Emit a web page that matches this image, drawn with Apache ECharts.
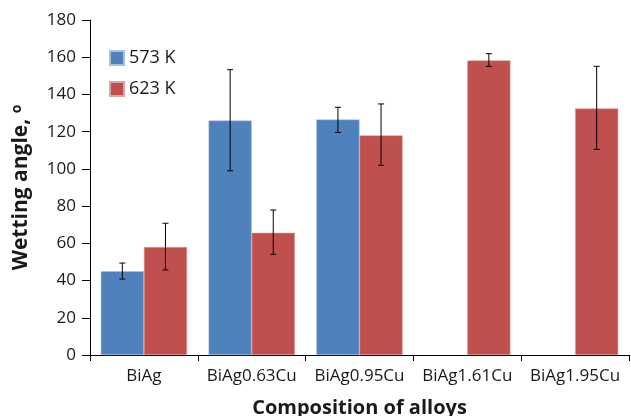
<!DOCTYPE html>
<html>
<head>
<meta charset="utf-8">
<script src="https://cdn.jsdelivr.net/npm/echarts@6/dist/echarts.min.js"></script>
<style>
  html, body { margin: 0; padding: 0; background: #fff; }
  #chart { width: 631px; height: 416px; }
</style>
</head>
<body>
<div id="chart"></div>
<script>
// 合金成分
const alloys = ['BiAg', 'BiAg0.63Cu', 'BiAg0.95Cu', 'BiAg1.61Cu', 'BiAg1.95Cu']
// 润湿角 (null = 无数据)
const angle573 = [45, 126, 126.5, null, null]
const angle623 = [58, 65.7, 118, 158.3, 132.5]
// 误差范围 [下限, 上限]
const err573 = [[40.8, 49.4], [99, 153.3], [119.6, 133.1], null, null]
const err623 = [[45.7, 70.8], [54.1, 77.9], [101.9, 134.9], [155.1, 161.9], [110.5, 155.1]]

const textColor = '#1a1a1a'
const font = 'Open Sans'

// 误差线 (两根柱子并排, barCategoryGap 20%, barGap 0)
const errorSeries = (name, errs, side) => ({
  type: 'custom',
  name: name + ' err',
  z: 10,
  data: errs.map((e, i) => e ? [i, e[0], e[1]] : null).filter(d => d),
  encode: {x: 0, y: [1, 2]},
  renderItem: (params, api) => {
    const idx = api.value(0)
    const low = api.coord([idx, api.value(1)])
    const high = api.coord([idx, api.value(2)])
    const band = api.size([1, 0])[0]
    const x = low[0] + side * band * 0.2
    const cap = 3
    const style = {stroke: '#000', lineWidth: 1}
    return {
      type: 'group',
      children: [
        {type: 'line', shape: {x1: x, y1: high[1], x2: x, y2: low[1]}, style},
        {type: 'line', shape: {x1: x - cap, y1: high[1], x2: x + cap, y2: high[1]}, style},
        {type: 'line', shape: {x1: x - cap, y1: low[1], x2: x + cap, y2: low[1]}, style}
      ]
    }
  }
})

const chart = echarts.init(document.getElementById('chart'))
chart.setOption({
  animation: false,
  textStyle: {fontFamily: font, color: textColor},
  grid: {left: 90, right: 2, top: 20, bottom: 61, containLabel: false, outerBoundsMode: 'none'},
  legend: {
    data: ['573 K', '623 K'],
    orient: 'vertical',
    left: 109,
    top: 49,
    padding: 0,
    itemWidth: 14,
    itemHeight: 14,
    itemGap: 13,
    icon: 'rect',
    textStyle: {fontFamily: font, fontSize: 18, color: textColor}
  },
  xAxis: {
    type: 'category',
    data: alloys,
    name: 'Composition of alloys',
    nameLocation: 'middle',
    nameGap: 43,
    nameTextStyle: {fontFamily: font, fontSize: 20, fontWeight: 'bold', color: textColor},
    axisLine: {lineStyle: {color: '#000', width: 1}},
    axisTick: {show: true, length: 6, lineStyle: {color: '#000'}},
    axisLabel: {fontFamily: font, fontSize: 17, color: textColor, margin: 13, interval: 0, hideOverlap: false}
  },
  yAxis: {
    type: 'value',
    min: 0,
    max: 180,
    interval: 20,
    name: '{t|Wetting angle, }{o|o}',
    nameLocation: 'middle',
    nameGap: 58,
    nameTextStyle: {
      fontFamily: font, fontSize: 21, fontWeight: 'bold', color: textColor,
      rich: {
        t: {fontFamily: font, fontSize: 21, fontWeight: 'bold', color: textColor},
        o: {fontFamily: font, fontSize: 14, color: textColor, verticalAlign: 'top', padding: [0, 0, 8, 0]}
      }
    },
    splitLine: {show: false},
    axisLine: {show: true, lineStyle: {color: '#000', width: 1}},
    axisTick: {show: true, length: 8, lineStyle: {color: '#000'}},
    axisLabel: {fontFamily: font, fontSize: 17, color: textColor, margin: 14}
  },
  series: [
    {
      name: '573 K',
      type: 'bar',
      data: angle573,
      barGap: '0%',
      barCategoryGap: '20%',
      itemStyle: {color: '#4F81BD', borderColor: '#a7c0de', borderWidth: 0.5}
    },
    {
      name: '623 K',
      type: 'bar',
      data: angle623,
      barGap: '0%',
      barCategoryGap: '20%',
      itemStyle: {color: '#C0504D', borderColor: '#dea5a4', borderWidth: 0.5}
    },
    errorSeries('573 K', err573, -1),
    errorSeries('623 K', err623, 1)
  ]
})
</script>
</body>
</html>
